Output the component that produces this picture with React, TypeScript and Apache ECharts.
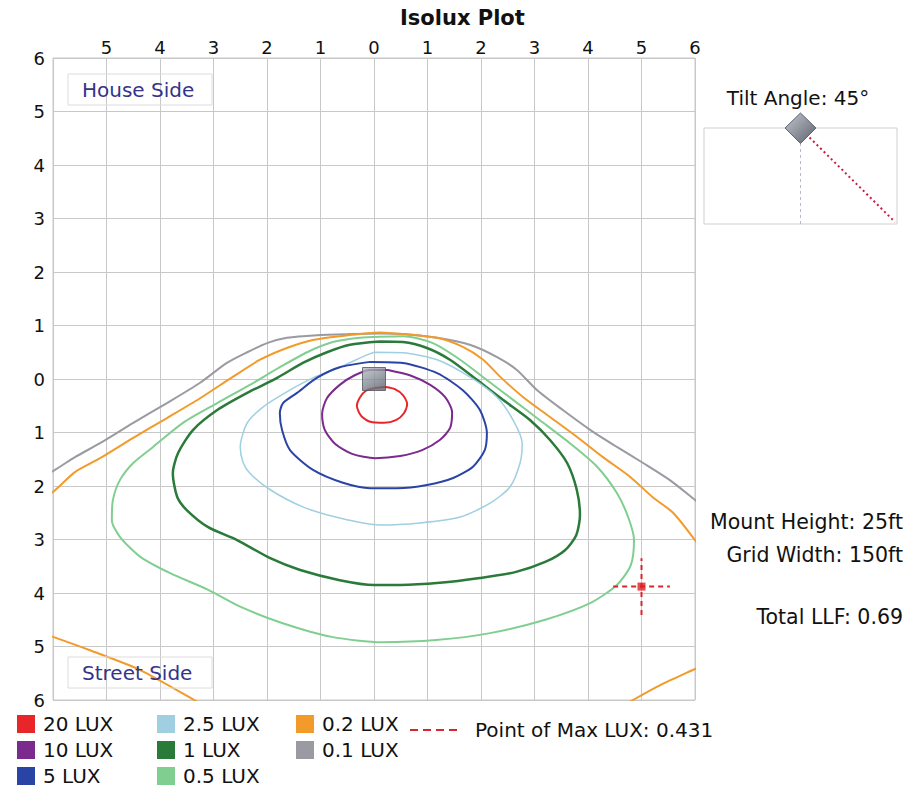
import React, { useEffect, useRef } from 'react';
import * as echarts from 'echarts';

// ---- Data (grid units; y negative = street side) ----
const LUX20: number[][] = [
  [0.22, -0.15], [0.39, -0.19], [0.54, -0.3], [0.62, -0.47], [0.56, -0.64], [0.41, -0.77],
  [0.19, -0.82], [-0.07, -0.8], [-0.24, -0.69], [-0.32, -0.5], [-0.26, -0.34], [-0.15, -0.22],
  [0.02, -0.17], [0.22, -0.15],
];
const LUX10: number[][] = [
  [0.26, 0.17], [0.67, 0.07], [1.05, -0.11], [1.33, -0.34], [1.46, -0.62], [1.42, -0.92],
  [1.23, -1.14], [0.9, -1.33], [0.49, -1.44], [0.02, -1.48], [-0.41, -1.4], [-0.73, -1.21],
  [-0.92, -0.95], [-0.97, -0.65], [-0.88, -0.36], [-0.64, -0.11], [-0.36, 0.07], [-0.07, 0.17],
  [0.26, 0.17],
];
const LUX5: number[][] = [
  [-0.07, 0.32], [0.54, 0.3], [1.18, 0.11], [1.66, -0.21], [1.98, -0.58], [2.11, -1.01],
  [2.07, -1.33], [1.85, -1.64], [1.48, -1.85], [0.99, -1.98], [0.43, -2.04], [-0.07, -2.04],
  [-0.58, -1.94], [-1.14, -1.7], [-1.57, -1.33], [-1.72, -0.95], [-1.76, -0.64], [-1.7, -0.45],
  [-1.44, -0.26], [-1.07, 0.02], [-0.64, 0.22], [-0.07, 0.32],
];
const LUX2_5: number[][] = [
  [0.0, 0.5], [0.54, 0.49], [1.18, 0.36], [1.79, 0.04], [2.3, -0.34], [2.6, -0.77],
  [2.77, -1.2], [2.73, -1.57], [2.54, -2.02], [2.17, -2.32], [1.61, -2.58], [0.86, -2.69],
  [0.11, -2.73], [-0.64, -2.6], [-1.33, -2.39], [-1.94, -2.07], [-2.32, -1.76], [-2.45, -1.55],
  [-2.5, -1.27], [-2.37, -0.82], [-2.07, -0.52], [-1.63, -0.24], [-1.14, 0.02], [-0.64, 0.22],
  [-0.13, 0.45], [0.0, 0.5],
];
const LUX1: number[][] = [
  [0.11, 0.7], [0.54, 0.69], [0.99, 0.58], [1.42, 0.36], [1.93, -0.02], [2.41, -0.39],
  [2.92, -0.77], [3.29, -1.14], [3.61, -1.57], [3.79, -2.07], [3.85, -2.54], [3.78, -2.92],
  [3.57, -3.2], [3.2, -3.42], [2.64, -3.61], [1.98, -3.72], [1.23, -3.81], [0.49, -3.85],
  [0.0, -3.85], [-0.64, -3.76], [-1.38, -3.57], [-1.94, -3.35], [-2.56, -3.01], [-3.1, -2.77],
  [-3.5, -2.45], [-3.68, -2.2], [-3.76, -1.76], [-3.66, -1.38], [-3.38, -0.95], [-2.93, -0.58],
  [-2.37, -0.26], [-1.81, 0.02], [-1.33, 0.3], [-0.88, 0.5], [-0.45, 0.64], [0.11, 0.7],
];
const LUX0_5: number[][] = [
  [0.11, 0.79], [0.54, 0.8], [1.1, 0.67], [1.61, 0.36], [2.11, -0.02], [2.6, -0.39],
  [3.1, -0.77], [3.66, -1.2], [4.17, -1.64], [4.54, -2.13], [4.75, -2.58], [4.86, -3.01],
  [4.8, -3.48], [4.54, -3.85], [4.04, -4.19], [3.2, -4.5], [2.17, -4.75], [1.16, -4.88],
  [0.15, -4.92], [-0.79, -4.82], [-1.72, -4.56], [-2.49, -4.26], [-3.1, -3.94], [-3.81, -3.63],
  [-4.36, -3.33], [-4.75, -2.95], [-4.9, -2.64], [-4.88, -2.26], [-4.75, -1.89], [-4.5, -1.57],
  [-4.13, -1.27], [-3.57, -0.82], [-2.93, -0.45], [-2.32, -0.11], [-1.76, 0.22], [-1.25, 0.5],
  [-0.77, 0.69], [-0.26, 0.77], [0.11, 0.79],
];
const LUX0_2_TOP: number[][] = [
  [-6.2, -2.2], [-6.0, -2.11], [-5.59, -1.74], [-5.12, -1.48], [-4.5, -1.1], [-3.87, -0.73],
  [-3.25, -0.36], [-2.64, 0.04], [-2.13, 0.36], [-1.63, 0.58], [-1.14, 0.73], [-0.64, 0.8],
  [0.11, 0.87], [0.54, 0.84], [1.18, 0.77], [1.66, 0.6], [2.04, 0.36], [2.36, 0.04],
  [2.79, -0.34], [3.29, -0.71], [3.79, -1.08], [4.28, -1.46], [4.79, -1.83], [5.21, -2.21],
  [5.59, -2.5], [6.0, -3.01], [6.15, -3.22],
];
const LUX0_2_BL: number[][] = [
  [-6.2, -4.76], [-6.0, -4.82], [-5.31, -5.07], [-4.37, -5.44], [-3.36, -6.0], [-3.2, -6.1],
];
const LUX0_2_BR: number[][] = [
  [4.65, -6.12], [4.84, -6.0], [5.35, -5.72], [6.0, -5.42], [6.2, -5.33],
];
const LUX0_1: number[][] = [
  [-6.2, -1.8], [-6.0, -1.72], [-5.59, -1.46], [-5.12, -1.2], [-4.5, -0.82], [-3.87, -0.45],
  [-3.25, -0.07], [-2.75, 0.3], [-2.37, 0.5], [-2.0, 0.67], [-1.63, 0.77], [-1.07, 0.82],
  [-0.45, 0.84], [0.11, 0.85], [0.54, 0.84], [1.18, 0.77], [1.79, 0.64], [2.3, 0.41],
  [2.67, 0.17], [3.05, -0.21], [3.53, -0.58], [4.04, -0.95], [4.54, -1.27], [5.03, -1.57],
  [5.53, -1.89], [6.0, -2.26], [6.2, -2.42],
];
const LUMINAIRE: number[] = [0, 0];
const MAX_POINT: number[] = [5.0, -3.88];
const MAX_LUX = 0.431;
const MOUNT_HEIGHT_FT = 25;
const GRID_WIDTH_FT = 150;
const TOTAL_LLF = 0.69;
const TILT_ANGLE = 45;

const LEVELS = ['20 LUX', '10 LUX', '5 LUX', '2.5 LUX', '1 LUX', '0.5 LUX', '0.2 LUX', '0.1 LUX'];
const MAX_NAME = `Point of Max LUX: ${MAX_LUX}`;

// ---- Styles ----
const FONT = 'DejaVu Sans';
const COLORS: Record<string, string> = {
  '20 LUX': '#e8262a',
  '10 LUX': '#7b2a8e',
  '5 LUX': '#2a44a6',
  '2.5 LUX': '#9fcfe0',
  '1 LUX': '#2a7a3a',
  '0.5 LUX': '#80cf90',
  '0.2 LUX': '#f29a2a',
  '0.1 LUX': '#9a9aa2',
};
const WIDTHS: Record<string, number> = {
  '20 LUX': 2, '10 LUX': 2, '5 LUX': 2, '2.5 LUX': 1.5, '1 LUX': 2.5, '0.5 LUX': 2, '0.2 LUX': 2, '0.1 LUX': 2,
};
const GRID_COLOR = '#c8c8c8';
const MAX_COLOR = '#d6262e';

function contour(name: string, data: number[][]) {
  return {
    type: 'line',
    name,
    data,
    smooth: 0.25,
    symbol: 'none',
    showSymbol: false,
    clip: true,
    silent: true,
    itemStyle: { color: COLORS[name] },
    lineStyle: { color: COLORS[name], width: WIDTHS[name] },
    z: 3,
  };
}

export default function App() {
  const ref = useRef<HTMLDivElement>(null);
  useEffect(() => {
    if (!ref.current) return;
    const chart = echarts.init(ref.current, null, { renderer: 'svg' });
    const arm = 0.53;
    const legendText = { fontFamily: FONT, fontSize: 20, color: '#111', padding: [0, 0, 0, 3] };
    const legendCommon = {
      orient: 'vertical',
      icon: 'rect',
      itemWidth: 18,
      itemHeight: 18,
      itemGap: 6,
      padding: 0,
      height: 90,
      selectedMode: false,
      textStyle: legendText,
      top: 714,
    };
    const option: any = {
      animation: false,
      backgroundColor: '#ffffff',
      title: {
        text: 'Isolux Plot',
        left: 400,
        top: 7,
        padding: 0,
        textStyle: { fontFamily: FONT, fontSize: 21, fontWeight: 'bold', color: '#111' },
      },
      grid: {
        left: 53, top: 58, width: 642, height: 642,
        show: true, borderColor: GRID_COLOR, borderWidth: 1, backgroundColor: 'transparent',
      },
      xAxis: {
        type: 'value', position: 'top', min: -6, max: 6, interval: 1,
        axisLine: { show: false }, axisTick: { show: false },
        splitLine: { show: true, lineStyle: { color: GRID_COLOR, width: 1 } },
        axisLabel: {
          fontFamily: FONT, fontSize: 18, color: '#111', margin: 2,
          showMinLabel: true, showMaxLabel: true,
          formatter: (v: number) => (v === -6 ? '' : String(Math.abs(v))),
        },
      },
      yAxis: {
        type: 'value', min: -6, max: 6, interval: 1,
        axisLine: { show: false }, axisTick: { show: false },
        splitLine: { show: true, lineStyle: { color: GRID_COLOR, width: 1 } },
        axisLabel: {
          fontFamily: FONT, fontSize: 18, color: '#111', margin: 8,
          showMinLabel: true, showMaxLabel: true,
          formatter: (v: number) => String(Math.abs(v)),
        },
      },
      legend: [
        { ...legendCommon, left: 17, data: LEVELS.slice(0, 3) },
        { ...legendCommon, left: 157, data: LEVELS.slice(3, 6) },
        { ...legendCommon, left: 296, data: LEVELS.slice(6, 8) },
        {
          orient: 'horizontal', left: 410, top: 720, padding: 0, selectedMode: false,
          itemWidth: 47, itemHeight: 2,
          textStyle: { ...legendText, padding: [0, 0, 0, 13] },
          data: [{
            name: MAX_NAME,
            icon: 'path://M0,0h8v2h-8zM13,0h8v2h-8zM26,0h8v2h-8zM39,0h8v2h-8z',
            itemStyle: { color: MAX_COLOR },
          }],
        },
      ],
      series: [
        contour('0.1 LUX', LUX0_1),
        contour('0.2 LUX', LUX0_2_TOP),
        contour('0.2 LUX', LUX0_2_BL),
        contour('0.2 LUX', LUX0_2_BR),
        contour('0.5 LUX', LUX0_5),
        contour('1 LUX', LUX1),
        contour('2.5 LUX', LUX2_5),
        contour('5 LUX', LUX5),
        contour('10 LUX', LUX10),
        contour('20 LUX', LUX20),
        {
          type: 'line', name: MAX_NAME, symbol: 'none', silent: true,
          data: [[MAX_POINT[0] - arm, MAX_POINT[1]], [MAX_POINT[0] + arm, MAX_POINT[1]]],
          itemStyle: { color: MAX_COLOR },
          lineStyle: { color: MAX_COLOR, width: 2, type: [5, 4] }, z: 5,
        },
        {
          type: 'line', name: MAX_NAME, symbol: 'none', silent: true,
          data: [[MAX_POINT[0], MAX_POINT[1] - arm], [MAX_POINT[0], MAX_POINT[1] + arm]],
          itemStyle: { color: MAX_COLOR },
          lineStyle: { color: MAX_COLOR, width: 2, type: [5, 4] }, z: 5,
        },
        {
          type: 'scatter', name: 'max marker', symbol: 'rect', symbolSize: 8, silent: true,
          data: [MAX_POINT], itemStyle: { color: '#e01e24' }, z: 6,
        },
        {
          type: 'scatter', name: 'Luminaire', symbol: 'rect', symbolSize: 23, silent: true,
          data: [LUMINAIRE], z: 7,
          itemStyle: {
            color: {
              type: 'linear', x: 0, y: 0, x2: 0.6, y2: 1,
              colorStops: [{ offset: 0, color: '#b8bcc4' }, { offset: 1, color: '#646a74' }],
            },
            borderColor: '#50545c', borderWidth: 1,
          },
        },
      ],
      graphic: [
        // House / Street side labels
        { type: 'rect', shape: { x: 68, y: 74, width: 144, height: 31 }, style: { fill: 'none', stroke: '#dcdcdc', lineWidth: 1 }, z: 10 },
        { type: 'text', x: 82, y: 90, style: { text: 'House Side', font: `20px "${FONT}"`, fill: '#34348c', verticalAlign: 'middle', align: 'left' }, z: 10 },
        { type: 'rect', shape: { x: 68, y: 657, width: 144, height: 31 }, style: { fill: 'none', stroke: '#dcdcdc', lineWidth: 1 }, z: 10 },
        { type: 'text', x: 82, y: 673, style: { text: 'Street Side', font: `20px "${FONT}"`, fill: '#34348c', verticalAlign: 'middle', align: 'left' }, z: 10 },
        // Tilt inset
        { type: 'text', x: 798, y: 98, style: { text: `Tilt Angle: ${TILT_ANGLE}°`, font: `20px "${FONT}"`, fill: '#111', align: 'center', verticalAlign: 'middle' }, z: 10 },
        { type: 'rect', shape: { x: 704, y: 128, width: 193, height: 96 }, style: { fill: '#ffffff', stroke: '#cfcfcf', lineWidth: 1 }, z: 10 },
        { type: 'line', shape: { x1: 800.5, y1: 143, x2: 800.5, y2: 224 }, style: { stroke: '#b4bccc', lineWidth: 1, lineDash: [3, 3] }, z: 11 },
        { type: 'line', shape: { x1: 806, y1: 134, x2: 895, y2: 222 }, style: { stroke: '#c81e3c', lineWidth: 2, lineDash: [2, 3] }, z: 11 },
        {
          type: 'polygon', shape: { points: [[800.5, 113], [816, 128], [800.5, 143.5], [785, 128]] },
          style: {
            fill: { type: 'linear', x: 0, y: 0, x2: 1, y2: 1, colorStops: [{ offset: 0, color: '#c4c8d0' }, { offset: 1, color: '#5a606a' }] },
            stroke: '#60646c', lineWidth: 1,
          }, z: 12,
        },
        // Info texts
        { type: 'text', x: 903, y: 522, style: { text: `Mount Height: ${MOUNT_HEIGHT_FT}ft`, font: `20.5px "${FONT}"`, fill: '#111', align: 'right', verticalAlign: 'middle' }, z: 10 },
        { type: 'text', x: 903, y: 555, style: { text: `Grid Width: ${GRID_WIDTH_FT}ft`, font: `20.5px "${FONT}"`, fill: '#111', align: 'right', verticalAlign: 'middle' }, z: 10 },
        { type: 'text', x: 903, y: 617, style: { text: `Total LLF: ${TOTAL_LLF}`, font: `20.5px "${FONT}"`, fill: '#111', align: 'right', verticalAlign: 'middle' }, z: 10 },
      ],
    };
    chart.setOption(option);
    return () => chart.dispose();
  }, []);
  return (
    <div
      ref={ref}
      style={{ position: 'absolute', left: 0, top: 0, width: 905, height: 789, background: '#fff' }}
    />
  );
}
